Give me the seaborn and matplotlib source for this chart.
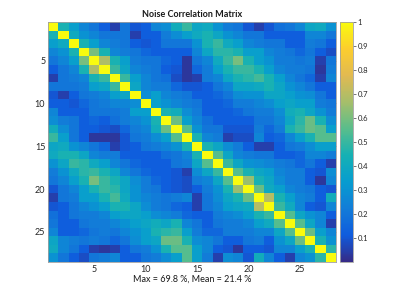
import numpy as np
import matplotlib
matplotlib.use("Agg")
import matplotlib.pyplot as plt
from matplotlib.colors import LinearSegmentedColormap
import seaborn as sns

# ---------------------- DATA ----------------------
n_ch = 28
# lower triangle of the noise correlation matrix, row k holds columns 1..k-1
r02 = [0.45]
r03 = [0.35, 0.40]
r04 = [0.25, 0.30, 0.45]
r05 = [0.20, 0.25, 0.35, 0.60]
r06 = [0.12, 0.20, 0.25, 0.45, 0.68]
r07 = [0.05, 0.20, 0.22, 0.25, 0.45, 0.50]
r08 = [0.20, 0.20, 0.20, 0.22, 0.35, 0.38, 0.50]
r09 = [0.10, 0.05, 0.12, 0.20, 0.22, 0.25, 0.35, 0.38]
r10 = [0.12, 0.12, 0.10, 0.15, 0.20, 0.22, 0.25, 0.25, 0.28]
r11 = [0.25, 0.12, 0.12, 0.12, 0.20, 0.20, 0.20, 0.22, 0.35, 0.35]
r12 = [0.28, 0.22, 0.20, 0.12, 0.15, 0.12, 0.18, 0.22, 0.25, 0.30, 0.45]
r13 = [0.42, 0.28, 0.20, 0.12, 0.12, 0.10, 0.08, 0.15, 0.22, 0.25, 0.42, 0.58]
r14 = [0.50, 0.35, 0.20, 0.12, 0.03, 0.03, 0.03, 0.10, 0.20, 0.22, 0.28, 0.35,
       0.55]
r15 = [0.38, 0.40, 0.30, 0.25, 0.20, 0.15, 0.05, 0.10, 0.12, 0.20, 0.22, 0.25,
       0.30, 0.45]
r16 = [0.40, 0.45, 0.45, 0.38, 0.25, 0.22, 0.22, 0.12, 0.12, 0.12, 0.12, 0.18,
       0.20, 0.25, 0.45]
r17 = [0.30, 0.38, 0.50, 0.48, 0.40, 0.35, 0.25, 0.20, 0.15, 0.12, 0.12, 0.12,
       0.20, 0.22, 0.38, 0.55]
r18 = [0.22, 0.30, 0.40, 0.48, 0.50, 0.45, 0.38, 0.25, 0.20, 0.15, 0.12, 0.12,
       0.10, 0.05, 0.28, 0.38, 0.50]
r19 = [0.20, 0.25, 0.35, 0.45, 0.60, 0.50, 0.45, 0.38, 0.28, 0.22, 0.15, 0.12,
       0.10, 0.08, 0.22, 0.25, 0.38, 0.55]
r20 = [0.10, 0.20, 0.25, 0.35, 0.45, 0.50, 0.48, 0.38, 0.30, 0.22, 0.20, 0.12,
       0.10, 0.08, 0.12, 0.22, 0.30, 0.45, 0.65]
r21 = [0.05, 0.20, 0.22, 0.35, 0.35, 0.45, 0.52, 0.40, 0.30, 0.25, 0.22, 0.20,
       0.22, 0.25, 0.05, 0.20, 0.28, 0.38, 0.45, 0.58]
r22 = [0.10, 0.12, 0.20, 0.25, 0.30, 0.35, 0.45, 0.45, 0.38, 0.28, 0.22, 0.20,
       0.15, 0.12, 0.05, 0.20, 0.25, 0.35, 0.38, 0.40, 0.698]
r23 = [0.18, 0.12, 0.20, 0.22, 0.22, 0.25, 0.35, 0.38, 0.38, 0.35, 0.28, 0.25,
       0.22, 0.15, 0.12, 0.12, 0.22, 0.25, 0.28, 0.35, 0.45, 0.50]
r24 = [0.20, 0.12, 0.12, 0.20, 0.22, 0.22, 0.25, 0.30, 0.35, 0.38, 0.42, 0.38,
       0.45, 0.25, 0.20, 0.12, 0.20, 0.22, 0.22, 0.25, 0.35, 0.40, 0.55]
r25 = [0.25, 0.12, 0.12, 0.15, 0.20, 0.22, 0.20, 0.25, 0.30, 0.35, 0.45, 0.48,
       0.50, 0.35, 0.22, 0.15, 0.15, 0.22, 0.22, 0.22, 0.25, 0.25, 0.38, 0.55]
r26 = [0.38, 0.25, 0.22, 0.20, 0.22, 0.20, 0.15, 0.20, 0.28, 0.35, 0.38, 0.58,
       0.58, 0.45, 0.28, 0.25, 0.20, 0.12, 0.12, 0.20, 0.22, 0.12, 0.30, 0.38,
       0.58]
r27 = [0.40, 0.25, 0.20, 0.12, 0.05, 0.03, 0.05, 0.12, 0.20, 0.22, 0.30, 0.45,
       0.55, 0.55, 0.35, 0.25, 0.12, 0.10, 0.03, 0.12, 0.12, 0.10, 0.25, 0.25,
       0.35, 0.45]
r28 = [0.30, 0.20, 0.12, 0.08, 0.20, 0.22, 0.25, 0.12, 0.12, 0.20, 0.22, 0.28,
       0.35, 0.55, 0.35, 0.22, 0.05, 0.28, 0.25, 0.10, 0.42, 0.25, 0.12, 0.05,
       0.25, 0.30, 0.48]

tick_vals = [5, 10, 15, 20, 25]
cbar_ticks = [0.1, 0.2, 0.3, 0.4, 0.5, 0.6, 0.7, 0.8, 0.9, 1.0]
cbar_labels = ["0.1", "0.2", "0.3", "0.4", "0.5", "0.6", "0.7", "0.8", "0.9", "1"]
max_pct = 69.8
mean_pct = 21.4

# ---------------------- BUILD MATRIX ----------------------
lower_rows = [r02, r03, r04, r05, r06, r07, r08, r09, r10, r11, r12, r13, r14,
              r15, r16, r17, r18, r19, r20, r21, r22, r23, r24, r25, r26, r27, r28]
corr = np.eye(n_ch)
for i, row in enumerate(lower_rows, start=1):
    corr[i, :i] = row
    corr[:i, i] = row

# matlab parula-like colormap
parula = LinearSegmentedColormap.from_list("parula", [
    (0.2081, 0.1663, 0.5292), (0.0591, 0.3598, 0.8683),
    (0.0723, 0.4887, 0.8467), (0.0265, 0.6137, 0.8135),
    (0.0843, 0.6928, 0.7062), (0.3482, 0.7424, 0.5473),
    (0.6473, 0.7456, 0.4188), (0.8824, 0.7274, 0.3217),
    (0.9880, 0.8066, 0.1794), (0.9763, 0.9831, 0.0538)])

# ---------------------- PLOT ----------------------
sns.set_style("white")
plt.rcParams['font.family'] = ['Lato', 'DejaVu Sans']

fig = plt.figure(figsize=(4, 2.95), dpi=100)
ax = fig.add_axes([0.12, 0.112, 0.72, 0.813])
cax = fig.add_axes([0.85, 0.112, 0.0325, 0.813])

sns.heatmap(corr, ax=ax, cbar_ax=cax, cmap=parula, vmin=0, vmax=1,
            xticklabels=False, yticklabels=False)

ax.set_xticks(np.array(tick_vals) - 0.5)
ax.set_xticklabels(tick_vals)
ax.set_yticks(np.array(tick_vals) - 0.5)
ax.set_yticklabels(tick_vals, rotation=0)
ax.tick_params(direction='in', top=True, right=True, length=2.5, width=0.5,
               labelsize=6.5, color='#404040', labelcolor='#262626', pad=2)
for s in ax.spines.values():
    s.set_visible(True)
    s.set_color('#a0a0a0')
    s.set_linewidth(0.6)

ax.set_title("Noise Correlation Matrix", fontsize=6.5, fontweight='bold',
             color='#1a1a1a', pad=4)
ax.set_xlabel(f"Max = {max_pct} %, Mean = {mean_pct} %", fontsize=6.5,
              color='#1a1a1a', labelpad=1)

cbar = ax.collections[0].colorbar
cbar.set_ticks(cbar_ticks)
cbar.set_ticklabels(cbar_labels)
cbar.ax.tick_params(direction='out', length=2, width=0.5, labelsize=5.5,
                    color='#404040', labelcolor='#262626', pad=1.5)
cbar.outline.set_edgecolor('#a0a0a0')
cbar.outline.set_linewidth(0.6)

fig.savefig("out.png", dpi=100)
